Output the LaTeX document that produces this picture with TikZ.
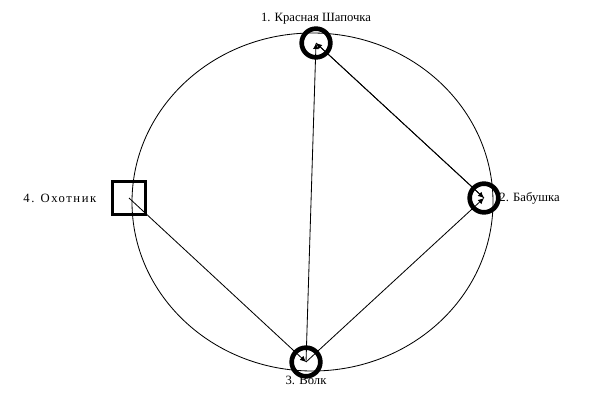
\documentclass[tikz,border=0pt]{standalone}
\usepackage{fontspec}
\setmainfont{Liberation Serif}
\usetikzlibrary{arrows.meta,positioning}

\begin{document}
\begin{tikzpicture}[
    x=0.03cm, y=-0.03cm,
    every node/.style={font=\fontsize{10.8}{12}\selectfont},
    person/.style={draw, circle, line width=1.4mm, minimum size=0.86cm, inner sep=0pt},
    hunter/.style={draw, rectangle, line width=1.0mm, minimum size=0.98cm, inner sep=0pt},
    link/.style={-{Latex[length=1.8mm, width=1.7mm]}, line width=0.25mm}
]
\useasboundingbox (0,0) rectangle (592,395);
\draw[line width=0.25mm] (312.5,202) ellipse [x radius=180.5, y radius=169];
\node[person] (hood) at (316,43) {};
\node[person] (granny) at (484,198) {};
\node[person] (wolf) at (306,362) {};
\node[hunter] (hunter) at (129,198) {};
\node[above=-0.6mm of hood] (hoodlbl) {1. Красная Шапочка};
\node[right=-1.6mm of granny] (grannylbl) {2. Бабушка};
\node[below=-2.0mm of wolf] (wolflbl) {3. Волк};
\node[left=3.2mm of hunter, font=\fontsize{10.8}{12}\selectfont\addfontfeature{LetterSpace=12}] (hunterlbl) {4. Охотник};
\draw[link] (wolf.center) -- (hood.center);
\draw[link] (granny.center) -- (hood.center);
\draw[link] (hood.center) -- (granny.center);
\draw[link] (wolf.center) -- (granny.center);
\draw[link] (hunter.center) -- (wolf.center);
\end{tikzpicture}
\end{document}
